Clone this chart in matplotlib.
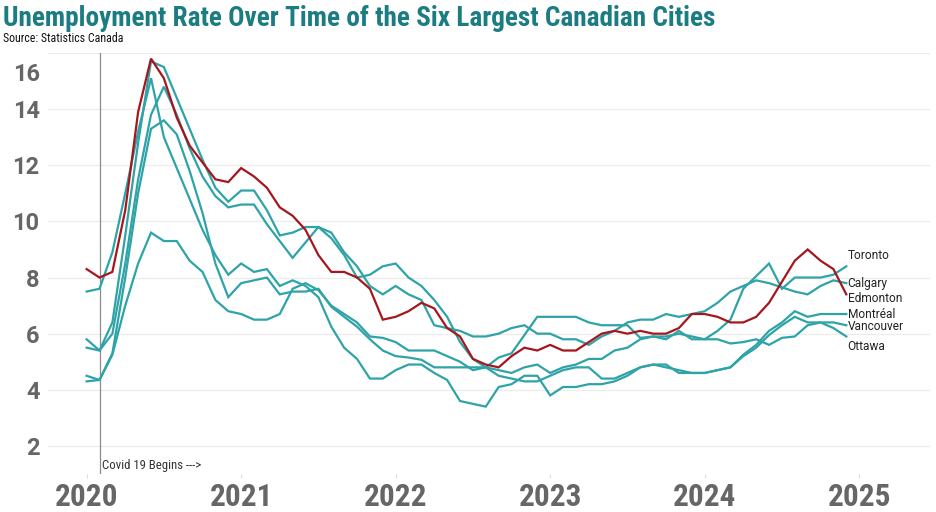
import numpy as np
import matplotlib
matplotlib.use("Agg")
import matplotlib.pyplot as plt
from matplotlib.transforms import ScaledTranslation

# monthly rates, Jan 2020 .. Dec 2024
months = np.arange(60)

edmonton = [8.3, 8.0, 8.2, 10.4, 13.9, 15.8, 15.1, 13.7, 12.7, 12.1, 11.5, 11.4,
            11.9, 11.6, 11.2, 10.5, 10.2, 9.7, 8.8, 8.2, 8.2, 8.0, 7.6, 6.5,
            6.6, 6.8, 7.1, 6.9, 6.2, 5.9, 5.1, 4.9, 4.8, 5.2, 5.5, 5.4,
            5.6, 5.4, 5.4, 5.7, 6.0, 6.1, 6.0, 6.1, 6.0, 6.0, 6.2, 6.7,
            6.7, 6.6, 6.4, 6.4, 6.6, 7.1, 7.85, 8.6, 9.0, 8.6, 8.3, 7.4]

toronto = [4.5, 4.35, 5.3, 8.0, 11.0, 13.3, 13.6, 13.1, 11.8, 10.3, 8.5, 7.3,
           7.8, 7.9, 8.0, 7.4, 7.5, 7.5, 7.6, 6.96, 6.6, 6.25, 5.8, 5.4,
           5.2, 5.15, 5.07, 4.8, 4.8, 4.8, 4.8, 4.8, 5.15, 5.3, 5.95, 6.6,
           6.6, 6.6, 6.6, 6.4, 6.3, 6.3, 6.3, 5.85, 5.9, 5.8, 6.1, 5.8,
           5.8, 6.1, 6.5, 7.6, 8.05, 8.5, 7.6, 8.0, 8.0, 8.0, 8.1, 8.4]

calgary = [5.5, 5.4, 6.0, 8.5, 11.5, 13.8, 14.8, 13.8, 12.6, 11.6, 10.9, 10.5,
           10.6, 10.6, 9.9, 9.3, 8.7, 9.25, 9.8, 9.6, 8.9, 8.4, 7.7, 7.4,
           7.7, 7.4, 7.2, 6.3, 6.2, 6.1, 5.9, 5.9, 6.0, 6.2, 6.3, 6.0,
           6.0, 5.8, 5.8, 5.6, 5.9, 6.1, 6.4, 6.5, 6.5, 6.7, 6.6, 6.7,
           6.8, 7.1, 7.5, 7.7, 7.9, 7.8, 7.65, 7.5, 7.4, 7.7, 7.9, 7.8]

montreal = [7.5, 7.6, 8.9, 11.0, 13.2, 15.1, 13.0, 11.9, 10.8, 9.7, 8.8, 8.1,
            8.5, 8.2, 8.3, 7.7, 7.9, 7.7, 7.3, 6.25, 5.5, 5.1, 4.4, 4.4,
            4.7, 4.9, 4.9, 4.6, 4.35, 3.6, 3.5, 3.4, 4.1, 4.2, 4.5, 4.5,
            3.8, 4.1, 4.1, 4.2, 4.2, 4.3, 4.5, 4.8, 4.9, 4.8, 4.7, 4.6,
            4.6, 4.7, 4.8, 5.25, 5.6, 6.1, 6.4, 6.8, 6.6, 6.7, 6.7, 6.7]

vancouver = [5.8, 5.4, 6.4, 9.5, 12.8, 15.7, 15.5, 14.4, 13.3, 12.2, 11.2, 10.7,
             11.1, 11.1, 10.4, 9.5, 9.6, 9.8, 9.8, 9.4, 8.8, 8.0, 8.1, 8.4,
             8.5, 8.0, 7.7, 7.2, 6.6, 5.7, 5.1, 4.8, 4.5, 4.4, 4.3, 4.3,
             4.5, 4.7, 4.8, 4.8, 4.4, 4.4, 4.6, 4.8, 4.9, 4.9, 4.6, 4.6,
             4.6, 4.7, 4.8, 5.2, 5.5, 5.95, 6.3, 6.6, 6.4, 6.4, 6.4, 6.3]

ottawa = [4.3, 4.35, 5.25, 7.0, 8.5, 9.6, 9.3, 9.3, 8.6, 8.2, 7.2, 6.8,
          6.7, 6.5, 6.5, 6.7, 7.6, 7.8, 7.55, 7.0, 6.7, 6.4, 5.9, 5.85,
          5.7, 5.4, 5.4, 5.4, 5.2, 5.0, 4.7, 4.8, 4.7, 4.6, 4.8, 4.9,
          4.6, 4.8, 4.9, 5.1, 5.1, 5.4, 5.5, 5.8, 5.9, 5.9, 6.0, 5.9,
          5.8, 5.8, 5.65, 5.7, 5.8, 5.6, 5.85, 5.9, 6.3, 6.4, 6.2, 5.9]

cities = ["Toronto", "Calgary", "Edmonton", "Montréal", "Vancouver", "Ottawa"]
series = [toronto, calgary, edmonton, montreal, vancouver, ottawa]
label_y = [8.77, 7.8, 7.27, 6.7, 6.27, 5.56]

year_ticks = [0, 12, 24, 36, 48, 60]
year_labels = ["2020", "2021", "2022", "2023", "2024", "2025"]
covid_month = 1

teal = "#2ea3a8"
red = "#a5161d"
narrow = ["Roboto Condensed", "Liberation Sans Narrow", "Roboto"]

fig = plt.figure(figsize=(9.36, 5.12), dpi=100)
ax = fig.add_axes([48/936, 1 - 474/512, 882/936, 421/512])

for name, vals in zip(cities, series):
    if name == "Edmonton":
        continue
    ax.plot(months, vals, color=teal, lw=1.6, solid_joinstyle="miter", zorder=3)
ax.plot(months, edmonton, color=red, lw=1.6, solid_joinstyle="miter", zorder=4)

# labels at the end of each line
for name, vals, ly in zip(cities, series, label_y):
    ax.text(months[-1] + 0.1, ly, name, fontsize=8.6, family="Roboto",
            color="#222222", va="center", ha="left")

ax.axvline(covid_month, color="#8c8c8c", lw=0.9, zorder=2)
ax.text(covid_month + 0.2, 1.3, "Covid 19 Begins --->", fontsize=9.2,
        family=narrow, color="#333333", va="center", ha="left")

ax.set_xlim(-3.0, 65.5)
ax.set_ylim(1, 16)
ax.set_yticks([2, 4, 6, 8, 10, 12, 14, 16])
ax.set_xticks(year_ticks)
ax.set_xticklabels(year_labels)
ax.grid(axis="y", color="#ececec", lw=0.9, zorder=0)
for s in ax.spines.values():
    s.set_visible(False)
ax.tick_params(axis="y", length=0, pad=6, labelsize=17, labelcolor="#666666")
ax.tick_params(axis="x", length=3, color="#dddddd", pad=3, labelsize=22.5,
               labelcolor="#666666")
for lab in ax.get_yticklabels():
    lab.set_family("Roboto")
    lab.set_fontweight("bold")
for lab in ax.get_xticklabels():
    lab.set_family(narrow)
    lab.set_fontweight("bold")

# the top label sits below its gridline
top = ax.get_yticklabels()[-1]
top.set_transform(top.get_transform() + ScaledTranslation(0, -19/100, fig.dpi_scale_trans))

fig.text(3/936, 1 - 19/512, "Unemployment Rate Over Time of the Six Largest Canadian Cities",
         fontsize=19.6, fontweight="bold", color="#1b7c82",
         family=narrow, va="center", ha="left")
fig.text(3/936, 1 - 39/512, "Source: Statistics Canada", fontsize=8.6,
         family=narrow, color="#111111", va="center", ha="left")

fig.savefig("out.png", dpi=100)
